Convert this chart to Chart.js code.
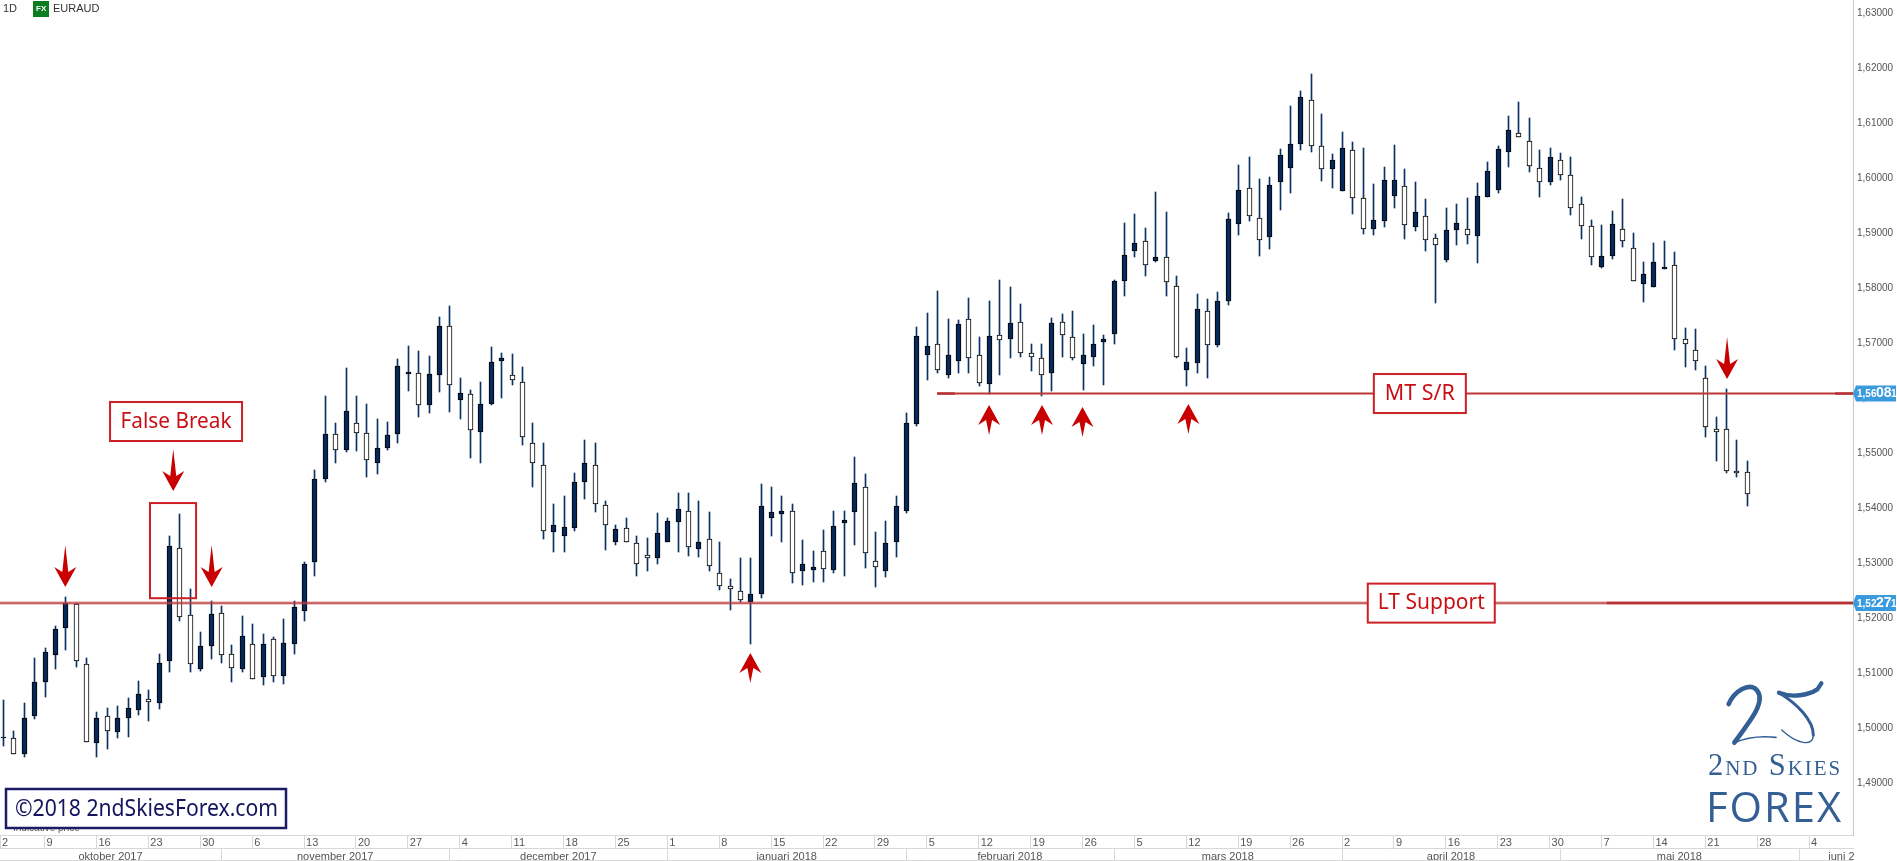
<!DOCTYPE html>
<html>
<head>
<meta charset="utf-8">
<title>EURAUD 1D</title>
<script src="https://cdn.jsdelivr.net/npm/chart.js@4"></script>
<style>
    html, body { margin: 0; padding: 0; background: #fff; overflow: hidden; }
    #wrap { width: 1897px; height: 861px; }
</style>
</head>
<body>
<div id="wrap"><canvas id="chart" width="1897" height="861"></canvas></div>
<script>
// daily candles (first candle is 29 sep 2017)
const opens = [
    1.4982, 1.4981, 1.4952, 1.5021, 1.5083, 1.5133, 1.5181, 1.5226, 1.5116, 1.4973,
    1.5021, 1.4992, 1.5019, 1.5033, 1.5052, 1.5045, 1.5121, 1.5327, 1.5205, 1.5108,
    1.5150, 1.5209, 1.5134, 1.5108, 1.5152, 1.5092, 1.5161, 1.5095, 1.5152, 1.5212,
    1.5301, 1.5453, 1.5534, 1.5505, 1.5554, 1.5536, 1.5482, 1.5510, 1.5534, 1.5643,
    1.5645, 1.5587, 1.5641, 1.5730, 1.5596, 1.5607, 1.5539, 1.5590, 1.5667, 1.5641,
    1.5630, 1.5519, 1.5479, 1.5357, 1.5350, 1.5364, 1.5447, 1.5478, 1.5405, 1.5339,
    1.5363, 1.5336, 1.5314, 1.5310, 1.5339, 1.5375, 1.5394, 1.5326, 1.5343, 1.5281,
    1.5258, 1.5250, 1.5230, 1.5244, 1.5382, 1.5390, 1.5394, 1.5286, 1.5288, 1.5321,
    1.5288, 1.5372, 1.5392, 1.5438, 1.5303, 1.5286, 1.5339, 1.5395, 1.5553, 1.5679,
    1.5698, 1.5642, 1.5667, 1.5743, 1.5679, 1.5626, 1.5714, 1.5708, 1.5738, 1.5681,
    1.5672, 1.5646, 1.5739, 1.5710, 1.5661, 1.5675, 1.5701, 1.5716, 1.5812, 1.5867,
    1.5885, 1.5849, 1.5857, 1.5803, 1.5650, 1.5664, 1.5759, 1.5697, 1.5777, 1.5917,
    1.5981, 1.5928, 1.5892, 1.5993, 1.6019, 1.6061, 1.6141, 1.6059, 1.6016, 1.5976,
    1.6050, 1.5963, 1.5908, 1.5921, 1.5968, 1.5985, 1.5910, 1.5930, 1.5890, 1.5850,
    1.5905, 1.5908, 1.5894, 1.5965, 1.5979, 1.6047, 1.6081, 1.6068, 1.6019, 1.5992,
    1.6032, 1.6005, 1.5952, 1.5912, 1.5839, 1.5859, 1.5908, 1.5872, 1.5808, 1.5801,
    1.5834, 1.5841, 1.5707, 1.5688, 1.5636, 1.5543, 1.5543, 1.5467, 1.5465
];
const closes = [
    1.4984, 1.4952, 1.5018, 1.5083, 1.5138, 1.5180, 1.5227, 1.5121, 1.4974, 1.5019,
    1.4994, 1.5018, 1.5036, 1.5061, 1.5047, 1.5119, 1.5331, 1.5202, 1.5116, 1.5150,
    1.5207, 1.5132, 1.5110, 1.5168, 1.5089, 1.5152, 1.5095, 1.5154, 1.5220, 1.5299,
    1.5452, 1.5534, 1.5505, 1.5576, 1.5536, 1.5487, 1.5510, 1.5532, 1.5659, 1.5647,
    1.5588, 1.5643, 1.5730, 1.5623, 1.5610, 1.5541, 1.5590, 1.5665, 1.5672, 1.5632,
    1.5530, 1.5481, 1.5359, 1.5370, 1.5365, 1.5448, 1.5481, 1.5408, 1.5369, 1.5361,
    1.5339, 1.5298, 1.5310, 1.5354, 1.5376, 1.5398, 1.5330, 1.5339, 1.5295, 1.5259,
    1.5252, 1.5232, 1.5243, 1.5403, 1.5392, 1.5394, 1.5281, 1.5298, 1.5292, 1.5290,
    1.5368, 1.5379, 1.5445, 1.5319, 1.5292, 1.5336, 1.5403, 1.5554, 1.5712, 1.5694,
    1.5650, 1.5678, 1.5734, 1.5673, 1.5628, 1.5712, 1.5706, 1.5736, 1.5681, 1.5675,
    1.5642, 1.5736, 1.5714, 1.5672, 1.5679, 1.5699, 1.5707, 1.5812, 1.5860, 1.5881,
    1.5841, 1.5856, 1.5810, 1.5675, 1.5665, 1.5761, 1.5697, 1.5776, 1.5925, 1.5978,
    1.5930, 1.5887, 1.5987, 1.6041, 1.6061, 1.6148, 1.6058, 1.6016, 1.6032, 1.6054,
    1.5963, 1.5908, 1.5923, 1.5996, 1.5996, 1.5914, 1.5939, 1.5888, 1.5878, 1.5905,
    1.5918, 1.5896, 1.5968, 1.6012, 1.6052, 1.6087, 1.6074, 1.6021, 1.5992, 1.6039,
    1.6005, 1.5945, 1.5912, 1.5857, 1.5859, 1.5916, 1.5885, 1.5812, 1.5825, 1.5847,
    1.5838, 1.5707, 1.5699, 1.5667, 1.5547, 1.5539, 1.5467, 1.5463, 1.5425
];
const highs = [
    1.5051, 1.4995, 1.5046, 1.5127, 1.5145, 1.5186, 1.5238, 1.5228, 1.5127, 1.5029,
    1.5036, 1.5040, 1.5055, 1.5086, 1.5069, 1.5135, 1.5349, 1.5389, 1.5253, 1.5175,
    1.5231, 1.5222, 1.5151, 1.5204, 1.5190, 1.5171, 1.5165, 1.5198, 1.5231, 1.5302,
    1.5469, 1.5604, 1.5554, 1.5654, 1.5604, 1.5589, 1.5562, 1.5556, 1.5671, 1.5694,
    1.5685, 1.5676, 1.5747, 1.5767, 1.5636, 1.5614, 1.5629, 1.5693, 1.5682, 1.5680,
    1.5656, 1.5554, 1.5518, 1.5407, 1.5422, 1.5464, 1.5524, 1.5518, 1.5413, 1.5369,
    1.5382, 1.5350, 1.5346, 1.5391, 1.5382, 1.5427, 1.5427, 1.5413, 1.5393, 1.5338,
    1.5271, 1.5309, 1.5309, 1.5444, 1.5438, 1.5422, 1.5407, 1.5342, 1.5322, 1.5360,
    1.5395, 1.5395, 1.5493, 1.5462, 1.5356, 1.5376, 1.5422, 1.5573, 1.5729, 1.5755,
    1.5794, 1.5744, 1.5742, 1.5782, 1.5711, 1.5776, 1.5815, 1.5802, 1.5771, 1.5698,
    1.5698, 1.5745, 1.5753, 1.5758, 1.5716, 1.5733, 1.5715, 1.5814, 1.5918, 1.5935,
    1.5909, 1.5975, 1.5938, 1.5822, 1.5691, 1.5789, 1.5780, 1.5793, 1.5936, 1.6024,
    1.6038, 1.5998, 1.6002, 1.6053, 1.6131, 1.6158, 1.6189, 1.6116, 1.6044, 1.6084,
    1.6065, 1.6054, 1.5989, 1.6020, 1.6060, 1.6016, 1.5993, 1.5962, 1.5898, 1.5945,
    1.5953, 1.5964, 1.5991, 1.6029, 1.6058, 1.6113, 1.6138, 1.6109, 1.6051, 1.6055,
    1.6045, 1.6038, 1.5965, 1.5924, 1.5915, 1.5940, 1.5962, 1.5900, 1.5848, 1.5882,
    1.5885, 1.5865, 1.5727, 1.5725, 1.5659, 1.5565, 1.5616, 1.5524, 1.5485
];
const lows = [
    1.4968, 1.4952, 1.4948, 1.5016, 1.5056, 1.5107, 1.5142, 1.5111, 1.4974, 1.4948,
    1.4961, 1.4981, 1.4984, 1.5023, 1.5013, 1.5035, 1.5102, 1.5195, 1.5102, 1.5104,
    1.5126, 1.5119, 1.5084, 1.5102, 1.5089, 1.5078, 1.5084, 1.5080, 1.5135, 1.5195,
    1.5277, 1.5448, 1.5482, 1.5501, 1.5504, 1.5457, 1.5462, 1.5506, 1.5519, 1.5613,
    1.5566, 1.5573, 1.5611, 1.5575, 1.5561, 1.5491, 1.5481, 1.5587, 1.5600, 1.5624,
    1.5515, 1.5439, 1.5344, 1.5320, 1.5320, 1.5359, 1.5416, 1.5393, 1.5324, 1.5333,
    1.5339, 1.5276, 1.5285, 1.5298, 1.5339, 1.5320, 1.5313, 1.5311, 1.5285, 1.5251,
    1.5215, 1.5229, 1.5153, 1.5237, 1.5349, 1.5338, 1.5264, 1.5260, 1.5266, 1.5266,
    1.5282, 1.5276, 1.5333, 1.5291, 1.5256, 1.5275, 1.5311, 1.5391, 1.5549, 1.5633,
    1.5646, 1.5637, 1.5645, 1.5645, 1.5622, 1.5607, 1.5642, 1.5673, 1.5675, 1.5649,
    1.5604, 1.5613, 1.5675, 1.5669, 1.5615, 1.5658, 1.5624, 1.5698, 1.5785, 1.5857,
    1.5822, 1.5848, 1.5785, 1.5673, 1.5621, 1.5646, 1.5637, 1.5693, 1.5769, 1.5896,
    1.5921, 1.5858, 1.5871, 1.5942, 1.5973, 1.6051, 1.6047, 1.5994, 1.5982, 1.5976,
    1.5935, 1.5898, 1.5896, 1.5911, 1.5945, 1.5889, 1.5904, 1.5867, 1.5773, 1.5847,
    1.5878, 1.5880, 1.5845, 1.5965, 1.5973, 1.6020, 1.6074, 1.6011, 1.5965, 1.5987,
    1.5996, 1.5933, 1.5889, 1.5842, 1.5837, 1.5853, 1.5875, 1.5812, 1.5775, 1.5801,
    1.5834, 1.5687, 1.5656, 1.5651, 1.5529, 1.5485, 1.5464, 1.5456, 1.5404
];

// axis contents, x values are candle numbers
const xMin = -0.29;
const xMax = 178.23;
const yMin = 1.48055;
const yMax = 1.63236;
const priceTicks = [1.49, 1.50, 1.51, 1.52, 1.53, 1.54, 1.55, 1.56, 1.57, 1.58, 1.59, 1.60, 1.61, 1.62, 1.63];
const weekPositions = [-0.29, 4, 9, 14, 19, 24, 29, 34, 39, 44, 49, 54, 59, 64, 69, 74, 79, 84, 89, 94, 99, 104, 109, 114, 119, 124, 129, 134, 139, 144, 149, 154, 159, 164, 169, 174];
const weekLabels = ['2', '9', '16', '23', '30', '6', '13', '20', '27', '4', '11', '18', '25', '1', '8', '15', '22', '29', '5', '12', '19', '26', '5', '12', '19', '26', '2', '9', '16', '23', '30', '7', '14', '21', '28', '4'];
const monthEdges = [-0.29, 21, 43, 64, 87, 107, 129, 150, 173, 183];
const monthLabels = ['oktober 2017', 'november 2017', 'december 2017', 'januari 2018', 'februari 2018', 'mars 2018', 'april 2018', 'maj 2018', 'juni 2018'];

// levels and annotations
const ltLevel = 1.52271;
const mtLevel = 1.56081;
const ltDarkFrom = 154.5;
const mtFrom = 90;
const mtDarkUntil = 91.7;
const mtDarkFrom = 176.5;
const downArrowIdx = [6, 16.4, 20.1, 166.1];
const downArrowTip = [1.52564, 1.54309, 1.52564, 1.56345];
const upArrowIdx = [72, 95, 100.1, 104, 114.2];
const upArrowTip = [1.51364, 1.55873, 1.55873, 1.55836, 1.55891];
const noteTexts = ['False Break', 'MT S/R', 'LT Support'];
const noteIdx = [16.67, 136.5, 137.6];
const notePrice = [1.55573, 1.56081, 1.52271];
const falseBreakIdx = [14.16, 18.6];
const falseBreakPrice = [1.5236, 1.5409];

const RED = '#c80f14';
const NAVY = '#04295a';

function levelLine(from, to, price, width, color) {
    return {
        type: 'line',
        data: [{ x: from, y: price }, { x: to, y: price }],
        borderColor: color,
        borderWidth: width,
        pointRadius: 0,
        fill: false,
        order: 0
    };
}

// put candles on whole pixels, the reference has no blurred wicks
const snapCandles = {
    id: 'snapCandles',
    afterDatasetsUpdate(chart) {
        chart.data.datasets.forEach((ds, i) => {
            if (ds.type === 'line') return;
            chart.getDatasetMeta(i).data.forEach(el => {
                el.x = Math.round(el.x) + 0.5;
                el.y = Math.round(el.y);
                el.base = Math.round(el.base);
            });
        });
    }
};

function drawArrow(ctx, x, tipY, dir, length) {
    // dir 1 points down, -1 points up
    ctx.beginPath();
    ctx.moveTo(x, tipY);
    ctx.lineTo(x + 11, tipY - dir * 20);
    ctx.lineTo(x + 3, tipY - dir * 15);
    ctx.lineTo(x, tipY - dir * length);
    ctx.lineTo(x - 3, tipY - dir * 15);
    ctx.lineTo(x - 11, tipY - dir * 20);
    ctx.closePath();
    ctx.fillStyle = '#c80000';
    ctx.fill();
}

function drawNote(ctx, text, cx, cy, w, textWidth) {
    const h = 39;
    ctx.fillStyle = '#fff';
    ctx.fillRect(cx - w / 2, cy - h / 2, w, h);
    ctx.strokeStyle = '#cc1f26';
    ctx.lineWidth = 2;
    ctx.strokeRect(cx - w / 2, cy - h / 2, w, h);
    ctx.fillStyle = RED;
    ctx.font = "22px 'Noto Sans'";
    ctx.textAlign = 'center';
    ctx.textBaseline = 'middle';
    ctx.fillText(text, cx, cy, textWidth);
}

function drawPriceTag(ctx, price, y) {
    ctx.fillStyle = '#3a9ade';
    ctx.beginPath();
    ctx.moveTo(1853, y);
    ctx.lineTo(1856, y - 8);
    ctx.lineTo(1896, y - 8);
    ctx.lineTo(1896, y + 8);
    ctx.lineTo(1856, y + 8);
    ctx.closePath();
    ctx.fill();
    const s = price.toFixed(5).replace('.', ',');
    ctx.fillStyle = '#fff';
    ctx.textAlign = 'left';
    ctx.textBaseline = 'middle';
    ctx.font = "bold 10px 'Liberation Sans'";
    ctx.fillText(s.slice(0, 4), 1857, y + 1);
    ctx.font = "bold 14px 'Liberation Sans'";
    ctx.fillText(s.slice(4, 6), 1876, y);
    ctx.font = "bold 10px 'Liberation Sans'";
    ctx.fillText(s.slice(6), 1891, y + 1);
}

function drawLogo(ctx) {
    const blue = '#345f95';
    ctx.save();
    ctx.translate(1600, 540);
    ctx.scale(1 / 3, 1 / 3);
    ctx.strokeStyle = blue;
    ctx.lineCap = 'round';
    ctx.lineJoin = 'round';
    // the 2
    ctx.lineWidth = 14;
    ctx.beginPath();
    ctx.moveTo(386, 492);
    ctx.bezierCurveTo(405, 450, 445, 432, 465, 445);
    ctx.bezierCurveTo(490, 465, 478, 500, 455, 535);
    ctx.bezierCurveTo(435, 565, 420, 585, 403, 608);
    ctx.stroke();
    ctx.lineWidth = 5;
    ctx.beginPath();
    ctx.moveTo(403, 608);
    ctx.bezierCurveTo(440, 592, 490, 588, 528, 592);
    ctx.stroke();
    // the 5
    ctx.lineWidth = 13;
    ctx.beginPath();
    ctx.moveTo(537, 458);
    ctx.bezierCurveTo(575, 474, 625, 466, 652, 448);
    ctx.lineTo(664, 430);
    ctx.stroke();
    ctx.lineWidth = 9;
    ctx.beginPath();
    ctx.moveTo(537, 458);
    ctx.bezierCurveTo(590, 490, 640, 540, 640, 585);
    ctx.stroke();
    ctx.lineWidth = 4;
    ctx.beginPath();
    ctx.moveTo(640, 585);
    ctx.bezierCurveTo(640, 622, 590, 612, 545, 570);
    ctx.stroke();
    ctx.restore();

    ctx.fillStyle = blue;
    ctx.textAlign = 'left';
    ctx.textBaseline = 'alphabetic';
    ctx.font = "small-caps 32px 'Liberation Serif'";
    ctx.letterSpacing = '2px';
    ctx.fillText('2nd Skies', 1708, 775, 134);
    ctx.font = "500 42px 'Open Sans'";
    ctx.letterSpacing = '2px';
    ctx.fillText('FOREX', 1706, 822, 137);
    ctx.letterSpacing = '0px';
}

const overlay = {
    id: 'overlay',
    beforeDraw(chart) {
        const ctx = chart.ctx;
        ctx.fillStyle = '#fff';
        ctx.fillRect(0, 0, chart.width, chart.height);
    },
    afterDraw(chart) {
        const ctx = chart.ctx;
        const x = chart.scales.x;
        const y = chart.scales.y;
        ctx.save();

        // month row: separators and closing line, cut the last label at the price axis
        ctx.fillStyle = '#fff';
        ctx.fillRect(1854, 836, 43, 25);
        ctx.strokeStyle = '#d8d8d8';
        ctx.lineWidth = 1;
        ctx.beginPath();
        ctx.moveTo(0, 860.5);
        ctx.lineTo(1853, 860.5);
        monthEdges.slice(1, -1).forEach(m => {
            const px = Math.round(x.getPixelForValue(m)) + 0.5;
            ctx.moveTo(px, 848);
            ctx.lineTo(px, 861);
        });
        ctx.stroke();

        // header
        ctx.fillStyle = '#333';
        ctx.textAlign = 'left';
        ctx.textBaseline = 'middle';
        ctx.font = "11px 'Liberation Sans'";
        ctx.fillText('1D', 3, 9);
        ctx.fillText('EURAUD', 53, 9);
        ctx.fillStyle = '#0b7d1f';
        ctx.fillRect(33, 1, 16, 16);
        ctx.fillStyle = '#fff';
        ctx.font = "bold 8px 'Liberation Sans'";
        ctx.fillText('FX', 36, 9);

        // false break frame
        const fx0 = x.getPixelForValue(falseBreakIdx[0]);
        const fx1 = x.getPixelForValue(falseBreakIdx[1]);
        const fy0 = y.getPixelForValue(falseBreakPrice[1]);
        const fy1 = y.getPixelForValue(falseBreakPrice[0]);
        ctx.strokeStyle = '#cc1f26';
        ctx.lineWidth = 2;
        ctx.strokeRect(fx0, fy0, fx1 - fx0, fy1 - fy0);

        downArrowIdx.forEach((v, i) => {
            drawArrow(ctx, x.getPixelForValue(v), y.getPixelForValue(downArrowTip[i]), 1, 42);
        });
        upArrowIdx.forEach((v, i) => {
            drawArrow(ctx, x.getPixelForValue(v), y.getPixelForValue(upArrowTip[i]), -1, 30);
        });

        const noteWidths = [132, 92, 127];
        const noteTextWidths = [111, 70, 107];
        noteTexts.forEach((t, i) => {
            drawNote(ctx, t, x.getPixelForValue(noteIdx[i]), y.getPixelForValue(notePrice[i]), noteWidths[i], noteTextWidths[i]);
        });

        drawPriceTag(ctx, mtLevel, y.getPixelForValue(mtLevel));
        drawPriceTag(ctx, ltLevel, y.getPixelForValue(ltLevel));

        // copyright box, covers most of the indicative price line
        ctx.fillStyle = '#555';
        ctx.textAlign = 'left';
        ctx.textBaseline = 'middle';
        ctx.font = "10px 'Liberation Sans'";
        ctx.fillText('Indicative price', 13, 828);
        ctx.fillStyle = '#fff';
        ctx.fillRect(5, 788, 282, 40);
        ctx.strokeStyle = '#1b1b66';
        ctx.lineWidth = 2.5;
        ctx.strokeRect(6, 789, 280, 39);
        ctx.fillStyle = '#14145e';
        ctx.font = "24px 'Noto Sans'";
        ctx.fillText('©2018 2ndSkiesForex.com', 15, 809, 263);

        drawLogo(ctx);
        ctx.restore();
    }
};

const wicks = opens.map((_, i) => ({ x: i, y: [lows[i], highs[i]] }));
const bodies = opens.map((o, i) => ({ x: i, y: [o, closes[i]] }));

new Chart(document.getElementById('chart'), {
    type: 'bar',
    data: {
        datasets: [
            levelLine(xMin, xMax, ltLevel, 3, 'rgba(196, 70, 70, 0.55)'),
            levelLine(xMin, xMax, ltLevel, 1, '#a92222'),
            levelLine(ltDarkFrom, xMax, ltLevel, 2.5, '#a92222'),
            levelLine(mtFrom, xMax, mtLevel, 3, 'rgba(196, 70, 70, 0.55)'),
            levelLine(mtFrom, xMax, mtLevel, 1, '#a92222'),
            levelLine(mtFrom, mtDarkUntil, mtLevel, 2.5, '#a92222'),
            levelLine(mtDarkFrom, xMax, mtLevel, 2.5, '#a92222'),
            {
                label: 'wick',
                data: wicks,
                backgroundColor: '#0b3263',
                barThickness: 1,
                grouped: false,
                order: 2
            },
            {
                label: 'body',
                data: bodies,
                backgroundColor: bodies.map(b => b.y[1] >= b.y[0] ? NAVY : '#fff'),
                borderColor: '#000',
                borderWidth: 1,
                borderSkipped: false,
                barThickness: 5,
                grouped: false,
                order: 1
            }
        ]
    },
    options: {
        responsive: false,
        animation: false,
        events: [],
        layout: { padding: 0 },
        plugins: {
            legend: { display: false },
            tooltip: { enabled: false }
        },
        scales: {
            x: {
                type: 'linear',
                position: 'bottom',
                min: xMin,
                max: xMax,
                offset: false,
                weight: 0,
                border: { color: '#d8d8d8' },
                grid: { offset: false, drawOnChartArea: false, color: '#d8d8d8', tickLength: 13 },
                afterBuildTicks(scale) { scale.ticks = weekPositions.map(v => ({ value: v })); },
                afterFit(scale) { scale.height = 13; scale.paddingLeft = 0; scale.paddingRight = 0; },
                ticks: {
                    autoSkip: false,
                    maxRotation: 0,
                    align: 'start',
                    labelOffset: 2,
                    padding: -12,
                    color: '#555',
                    font: { family: 'Liberation Sans', size: 11 },
                    callback: (v, i) => weekLabels[i]
                }
            },
            xMonth: {
                type: 'linear',
                axis: 'x',
                position: 'bottom',
                min: xMin,
                max: xMax,
                offset: false,
                weight: 1,
                border: { color: '#d8d8d8' },
                grid: { display: true, offset: false, drawOnChartArea: false, drawTicks: false },
                afterBuildTicks(scale) {
                    scale.ticks = monthLabels.map((_, i) => ({ value: (monthEdges[i] + monthEdges[i + 1]) / 2 }));
                },
                afterFit(scale) { scale.height = 13; scale.paddingLeft = 0; scale.paddingRight = 0; },
                ticks: {
                    autoSkip: false,
                    maxRotation: 0,
                    padding: 2,
                    color: '#555',
                    font: { family: 'Liberation Sans', size: 11 },
                    callback: (v, i) => monthLabels[i]
                }
            },
            y: {
                type: 'linear',
                position: 'right',
                min: yMin,
                max: yMax,
                border: { color: '#c8c8c8' },
                grid: { drawOnChartArea: false, drawTicks: false },
                afterBuildTicks(scale) { scale.ticks = priceTicks.map(v => ({ value: v })); },
                // no room kept for the outer tick labels, the plot starts at the very top
                afterFit(scale) { scale.width = 44; scale.paddingTop = 0; scale.paddingBottom = 0; },
                ticks: {
                    padding: 4,
                    color: '#555',
                    font: { family: 'Liberation Sans', size: 10 },
                    callback: v => v.toFixed(5).replace('.', ',')
                }
            }
        }
    },
    plugins: [snapCandles, overlay]
});
</script>
</body>
</html>
